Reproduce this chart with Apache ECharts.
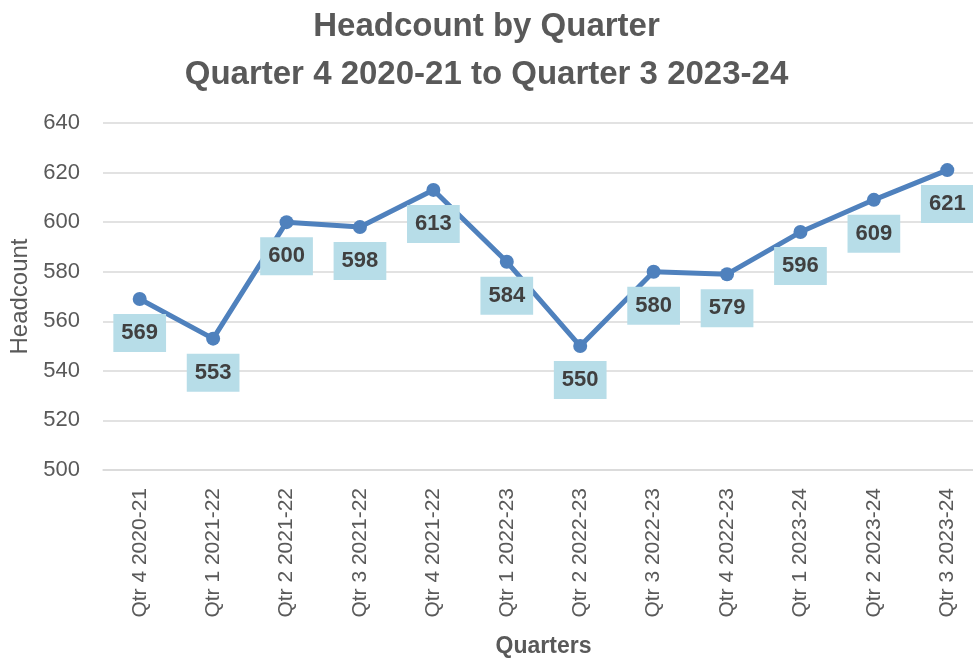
<!DOCTYPE html>
<html>
<head>
<meta charset="utf-8">
<script src="https://cdn.jsdelivr.net/npm/echarts@6/dist/echarts.min.js"></script>
<style>
    html, body { margin: 0; padding: 0; background: #fff; }
    #chart { width: 973px; height: 658px; }
</style>
</head>
<body>
<div id="chart"></div>
<script>
    // quarters on the x axis
    var quarters = ['Qtr 4 2020-21', 'Qtr 1 2021-22', 'Qtr 2 2021-22', 'Qtr 3 2021-22',
        'Qtr 4 2021-22', 'Qtr 1 2022-23', 'Qtr 2 2022-23', 'Qtr 3 2022-23',
        'Qtr 4 2022-23', 'Qtr 1 2023-24', 'Qtr 2 2023-24', 'Qtr 3 2023-24'];
    // headcount per quarter
    var headcount = [569, 553, 600, 598, 613, 584, 550, 580, 579, 596, 609, 621];

    var textGray = '#595959';
    var font = 'Liberation Sans';

    var chart = echarts.init(document.getElementById('chart'));
    chart.setOption({
        animation: false,
        title: {
            text: 'Headcount by Quarter\nQuarter 4 2020-21 to Quarter 3 2023-24',
            left: 'center',
            top: -2,
            textStyle: {
                color: textGray,
                fontFamily: font,
                fontWeight: 'bold',
                fontSize: 33,
                lineHeight: 48
            }
        },
        grid: {
            left: 103,
            top: 123,
            width: 881,
            height: 347,
            outerBoundsMode: 'none'
        },
        xAxis: {
            type: 'category',
            data: quarters,
            boundaryGap: true,
            name: 'Quarters',
            nameLocation: 'middle',
            nameGap: 165,
            nameTextStyle: { color: textGray, fontFamily: font, fontWeight: 'bold', fontSize: 23 },
            axisLine: { lineStyle: { color: '#d9d9d9', width: 1.5 } },
            axisTick: { show: false },
            axisLabel: { rotate: 90, margin: 18, color: textGray, fontFamily: font, fontSize: 21 }
        },
        yAxis: {
            type: 'value',
            min: 500,
            max: 640,
            interval: 20,
            name: 'Headcount',
            nameLocation: 'middle',
            nameGap: 70,
            nameTextStyle: { color: textGray, fontFamily: font, fontSize: 24 },
            axisLine: { show: false },
            axisTick: { show: false },
            axisLabel: { margin: 23, color: textGray, fontFamily: font, fontSize: 22 },
            splitLine: { lineStyle: { color: '#d9d9d9', width: 1.5 } }
        },
        series: [{
            name: 'Headcount',
            type: 'line',
            data: headcount,
            symbol: 'circle',
            symbolSize: 14,
            lineStyle: { color: '#4f81bd', width: 5 },
            itemStyle: { color: '#4f81bd' },
            label: {
                show: true,
                position: 'inside',
                offset: [0, 34],
                color: '#404040',
                fontFamily: font,
                fontWeight: 'bold',
                fontSize: 22,
                lineHeight: 22,
                backgroundColor: '#b7dde8',
                padding: [8, 8]
            }
        }]
    });
</script>
</body>
</html>
